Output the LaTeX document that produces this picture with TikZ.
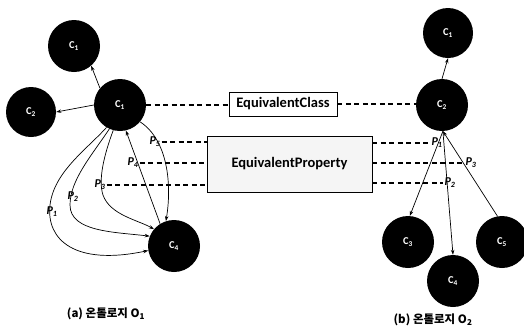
\documentclass[tikz,border=0pt]{standalone}
\usepackage{fontspec}
\setmainfont{Carlito}
\newfontfamily\krfont{Noto Sans CJK KR}
\usetikzlibrary{arrows.meta}
\begin{document}
\begin{tikzpicture}[x=1pt,y=-1pt,
  cls/.style={circle, fill=black, minimum size=52pt, inner sep=0pt, text=white, font=\bfseries\fontsize{10.5}{12}\selectfont},
  lnk/.style={line width=0.7pt, -{Stealth[length=5pt,width=3.5pt]}},
  eqd/.style={dash pattern=on 5pt off 3.5pt, line width=1.1pt},
  plab/.style={font=\bfseries\itshape\fontsize{12}{13}\selectfont, inner sep=1pt},
  eqbox/.style={draw, line width=0.6pt, inner sep=0pt, font=\bfseries\fontsize{14.5}{16}\selectfont},
  captxt/.style={font=\krfont\bfseries\fontsize{11.5}{13}\selectfont}
]
\useasboundingbox (0,0) rectangle (524,330);

% left ontology
\node[cls] (a1) at (74,46) {C\textsubscript{1}};
\node[cls, minimum size=50pt] (a2) at (31,112) {C\textsubscript{2}};
\node[cls] (hub) at (120,105) {C\textsubscript{1}};
\node[cls] (a4) at (174,246) {C\textsubscript{4}};

% right ontology
\node[cls, minimum size=50pt] (b1) at (448,33) {C\textsubscript{1}};
\node[cls] (b2) at (442,105) {C\textsubscript{2}};
\node[cls] (b3) at (408,242) {C\textsubscript{3}};
\node[cls] (b4) at (453,281) {C\textsubscript{4}};
\node[cls] (b5) at (502,242) {C\textsubscript{5}};

% boxes
\node[eqbox, fill=white, minimum width=108pt, minimum height=24pt] (ec) at (283,104) {EquivalentClass};
\node[eqbox, fill=black!4, minimum width=165pt, minimum height=56pt] (ep) at (289.5,164) {EquivalentProperty};

% left connectors
\draw[lnk] (hub.140) -- (a1.-49);
\draw[lnk] (hub.west) -- (a2.east);
\draw[lnk] (hub.-121) .. controls (86,150) and (54,172) .. (50,205) .. controls (46,240) and (75,266) .. (a4.190);
\draw[lnk] (hub.-114) .. controls (92,155) and (70,180) .. (70,205) .. controls (70,232) and (115,232) .. (a4.158);
\draw[lnk] (hub.-105) .. controls (104,155) and (98,180) .. (103,195) .. controls (110,215) and (138,220) .. (a4.140);
\draw[lnk] (a4.122) -- (hub.-77);
\draw[lnk] (hub.-40) .. controls (168,140) and (172,185) .. (a4.108);

% right connectors
\coordinate (bj) at (b2.-88);
\draw[lnk] (b2.north) -- (b1.south);
\draw[lnk] (bj) -- (b3.86);
\draw[lnk] (bj) -- (b4.north);
\draw[lnk] (b5.100) -- (bj);

% labels
\node[plab] (p5) at (155,142) {P\textsubscript{5}};
\node[plab] (p4) at (133,163) {P\textsubscript{4}};
\node[plab] (p3) at (100,185) {P\textsubscript{3}};
\node[plab] (p2) at (73,197) {P\textsubscript{2}};
\node[plab] (p1) at (52,212) {P\textsubscript{1}};
\node[plab] (q1) at (437,143) {P\textsubscript{1}};
\node[plab] (q3) at (471,163) {P\textsubscript{3}};
\node[plab] (q2) at (450,183) {P\textsubscript{2}};

% dashed equivalence lines
\draw[eqd] (hub.east) -- (hub.east -| ec.west);
\draw[eqd] (ec.east) -- (ec.east -| b2.west);
\draw[eqd] (p5.east) -- (p5.east -| ep.west);
\draw[eqd] (p4.east) -- (p4.east -| ep.west);
\draw[eqd] (p3.east) -- (p3.east -| ep.west);
\draw[eqd] (q1.west -| ep.east) -- (q1.west);
\draw[eqd] (q3.west -| ep.east) -- (q3.west);
\draw[eqd] (q2.west -| ep.east) -- (q2.west);

% captions
\node[captxt] (capa) at (106,314) {(a) 온톨로지 O\textsubscript{1}};
\node[captxt] (capb) at (433,320) {(b) 온톨로지 O\textsubscript{2}};
\end{tikzpicture}
\end{document}
